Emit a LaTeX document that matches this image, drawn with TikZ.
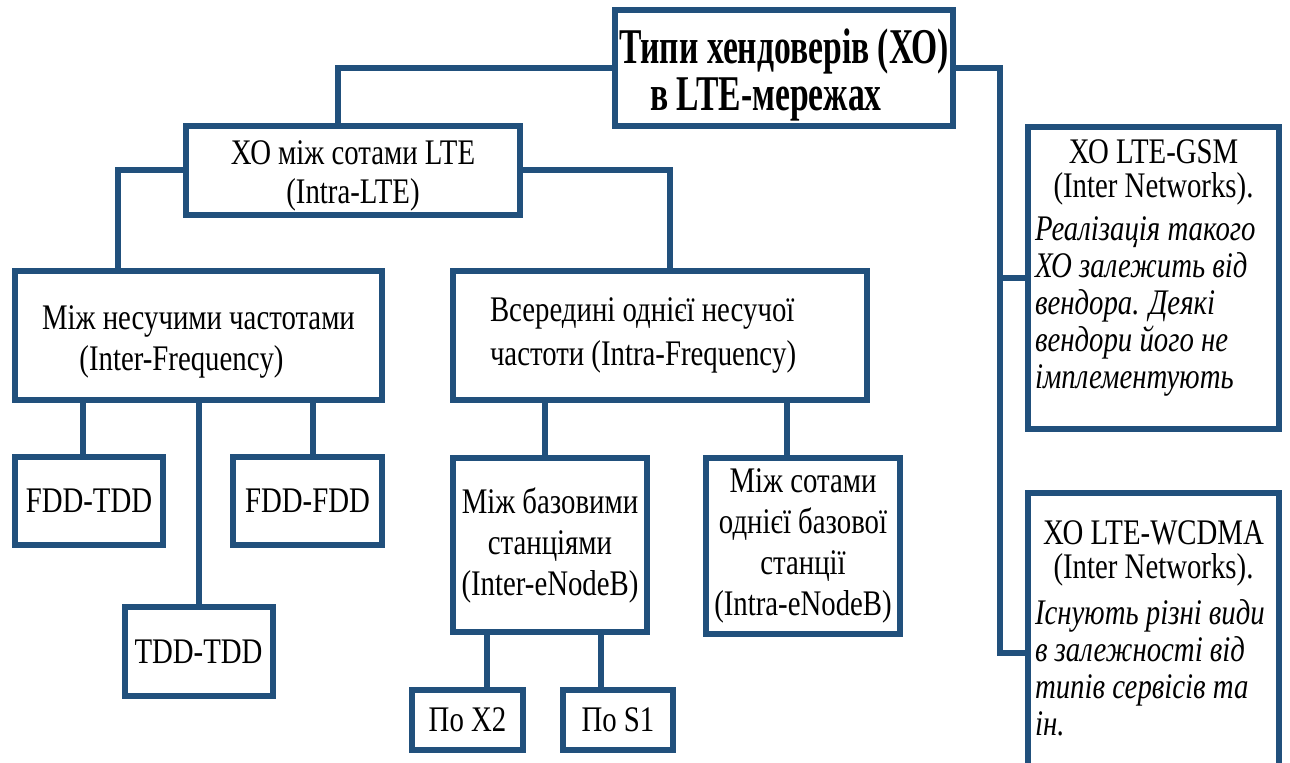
\documentclass[tikz,border=0pt]{standalone}
\usepackage{fontspec}
\setmainfont{Liberation Serif}[FakeStretch=0.8]
\newfontfamily\headfont{Liberation Serif}[FakeStretch=0.672]
\usepackage{tikz}
\usetikzlibrary{positioning}
\definecolor{linkblue}{RGB}{33,80,124}
\tikzstyle{box} = [draw=linkblue, line width=3pt, inner sep=2pt, align=center, font=\fontsize{18}{20.5}\selectfont]
\tikzstyle{note} = [text width=118.5pt, minimum width=125.5pt, font=\fontsize{18}{18.5}\selectfont]
\tikzstyle{link} = [draw=linkblue, line width=3pt]

\begin{document}
\begin{tikzpicture}[x=0.5pt, y=-0.5pt]
		\useasboundingbox (0,0) rectangle (1290,762);
		\clip (0,0) rectangle (1290,762);
		% Nodes
		\node[box, anchor=north west, minimum width=167pt, minimum height=58pt, font=\headfont\bfseries\fontsize{25}{23.5}\selectfont] (root) at (612,7) {\rule{0pt}{24pt}Типи хендоверів (ХО)\\в LTE-мережах\makebox[18pt]{}};
		\node[box, anchor=north west, minimum width=167pt, minimum height=44pt] (intra) at (183,123) {\rule{0pt}{17pt}ХО між сотами LTE\\[-1pt](Intra-LTE)};
		\node[box, anchor=north west, minimum width=183.5pt, minimum height=64.5pt] (interf) at (12,268) {\rule{0pt}{18.3pt}Між несучими частотами\\(Inter-Frequency)\makebox[17pt]{}};
		\node[box, right=32.5pt of interf, minimum width=207pt, minimum height=64.5pt, text width=170pt, align=none] (intraf) {\raggedright Всередині однієї несучої\\[1.5pt]частоти (Intra-Frequency)};
		\node[box, below=25.5pt of interf.south west, anchor=north west, minimum width=74pt, minimum height=44pt] (fddtdd) {FDD-TDD};
		\node[box, below=25.5pt of interf.south east, anchor=north east, minimum width=74.5pt, minimum height=44pt] (fddfdd) {FDD-FDD};
		\node[box, below=100.5pt of interf, minimum width=74pt, minimum height=44.5pt] (tddtdd) {TDD-TDD};
		\node[box, below=26pt of intraf.south west, anchor=north west, minimum width=97pt, minimum height=87pt] (interenb) {Між базовими\\станціями\\(Inter-eNodeB)};
		\node[box, right=26.5pt of interenb.north east, anchor=north west, minimum width=97pt, minimum height=88pt] (intraenb) {Між сотами\\однієї базової\\станції\\(Intra-eNodeB)};
		\node[box, below=26pt of interenb.south west, anchor=north west, xshift=-20.5pt, minimum width=55.5pt, minimum height=30pt] (x2) {По X2};
		\node[box, right=17pt of x2, minimum width=55pt, minimum height=30pt] (s1) {По S1};
		\node[box, note, align=none, anchor=north west, minimum height=151pt] (gsm) at (1025,124) {{\centering ХО LTE-GSM\\[-1.5pt](Inter Networks).\\[3pt]}\raggedright\itshape Реалізація такого\\ХО залежить від\\вендора. Деякі\\вендори його не\\імплементують\rule[-14.4pt]{0pt}{0pt}};
		\node[box, note, align=none, below=29pt of gsm, minimum height=160pt] (wcdma) {{\centering ХО LTE-WCDMA\\[-1.5pt](Inter Networks).\\[4.5pt]}\raggedright\itshape Існують різні види\\в залежності від\\типів сервісів та\\ін.\rule[-25.4pt]{0pt}{0pt}};
		\coordinate (rbus) at ([xshift=22pt]root.east);
		\coordinate (wcdmain) at ([yshift=-81.5pt]wcdma.north west);
		%Lines
		\draw[link] (root.west) -| ([xshift=-7.5pt]intra.north);
		\draw[link] (root.east) -- (rbus) |- (wcdmain);
		\draw[link] (rbus |- gsm.west) -- (gsm.west);
		\draw[link] (intra.west) -| ([xshift=-40.25pt]interf.north);
		\draw[link] (intra.east) -| ([xshift=5pt]intraf.north);
		\draw[link] ([xshift=-3pt]fddtdd.north) -- ([xshift=-3pt]fddtdd.north |- interf.south);
		\draw[link] (tddtdd.north) -- (interf.south);
		\draw[link] ([xshift=2.75pt]fddfdd.north) -- ([xshift=2.75pt]fddfdd.north |- interf.south);
		\draw[link] ([xshift=-2.5pt]interenb.north) -- ([xshift=-2.5pt]interenb.north |- intraf.south);
		\draw[link] ([xshift=-8pt]intraenb.north) -- ([xshift=-8pt]intraenb.north |- intraf.south);
		\draw[link] ([xshift=9.75pt]x2.north) -- ([xshift=9.75pt]x2.north |- interenb.south);
		\draw[link] ([xshift=-8.5pt]s1.north) -- ([xshift=-8.5pt]s1.north |- interenb.south);
	\end{tikzpicture}
\end{document}
